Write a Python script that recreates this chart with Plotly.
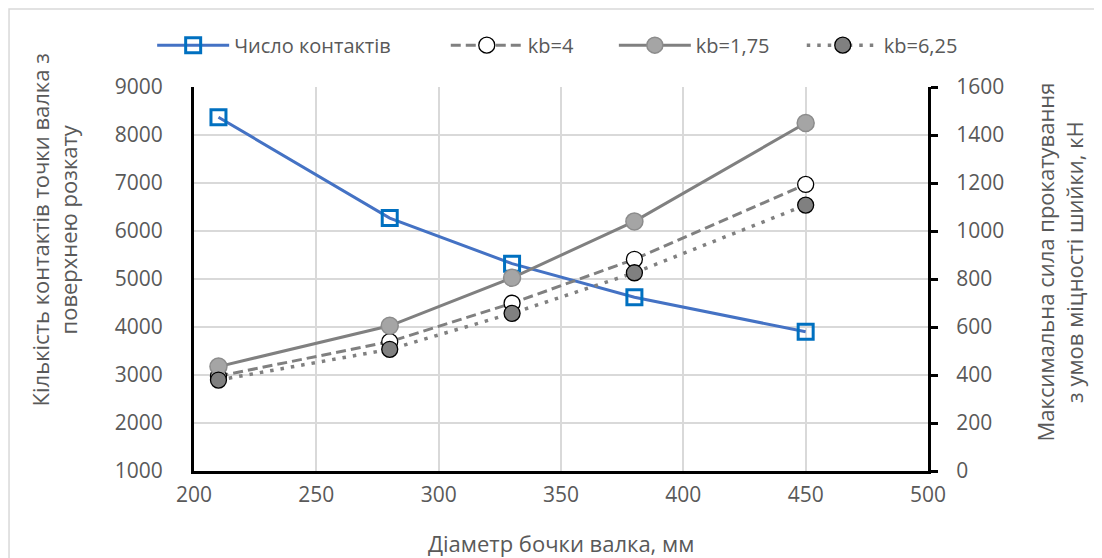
import plotly.graph_objects as go

# ---- data ----
diameter = [210, 280, 330, 380, 450]
contacts = [8370, 6270, 5320, 4620, 3900]
kb_4 = [395, 539, 699, 882, 1194]
kb_1_75 = [435, 605, 805, 1040, 1450]
kb_6_25 = [379, 507, 657, 826, 1108]

names = ["Число контактів", "kb=4", "kb=1,75", "kb=6,25"]
x_title = "Діаметр бочки валка, мм"
y_title = "Кількість контактів точки валка з<br>поверхнею розкату"
y2_title = "Максимальна сила прокатування<br>з умов міцності шийки, кН"

FONT = "Open Sans"
TXT = "#595959"

fig = go.Figure()

fig.add_trace(go.Scatter(
    x=diameter, y=contacts, name=names[0], mode="lines+markers", legend="legend",
    line=dict(color="#4472C4", width=3),
    marker=dict(symbol="square-open", size=15, color="#0070C0", line=dict(width=3, color="#0070C0")),
    yaxis="y"))

fig.add_trace(go.Scatter(
    x=diameter, y=kb_4, name=names[1], mode="lines+markers", legend="legend2",
    line=dict(color="#808080", width=3, dash="10px,5px"),
    marker=dict(symbol="circle", size=16, color="white", line=dict(width=1.3, color="black")),
    yaxis="y2"))

fig.add_trace(go.Scatter(
    x=diameter, y=kb_1_75, name=names[2], mode="lines+markers", legend="legend3",
    line=dict(color="#808080", width=3),
    marker=dict(symbol="circle", size=17, color="#A5A5A5", line=dict(width=1.5, color="#8C8C8C")),
    yaxis="y2"))

fig.add_trace(go.Scatter(
    x=diameter, y=kb_6_25, name=names[3], mode="lines+markers", legend="legend4",
    line=dict(color="#808080", width=3.5, dash="3.5px,7px"),
    marker=dict(symbol="circle", size=16, color="#808080", line=dict(width=1.3, color="black")),
    yaxis="y2"))


def leg(x):
    return dict(orientation="h", x=x, xanchor="left", y=1.109, yanchor="middle",
                font=dict(family=FONT, size=20, color=TXT), itemwidth=72,
                bgcolor="rgba(0,0,0,0)")


fig.update_layout(
    width=1094, height=550,
    margin=dict(l=186, r=174, t=79, b=87),
    paper_bgcolor="white", plot_bgcolor="white",
    font=dict(family=FONT, size=20, color=TXT),
    showlegend=True,
    legend=leg(-0.057), legend2=leg(0.343), legend3=leg(0.572), legend4=leg(0.828),
    xaxis=dict(range=[200, 500], dtick=50, tick0=200, showgrid=True, gridcolor="#D9D9D9", gridwidth=1.5,
               showline=True, linecolor="black", linewidth=3, zeroline=False,
               ticks="", ticklabelstandoff=3, tickfont=dict(size=21, color=TXT)),
    yaxis=dict(range=[1000, 9000], dtick=1000, tick0=1000, showgrid=True, gridcolor="#D9D9D9", gridwidth=1.5,
               showline=True, linecolor="black", linewidth=3, zeroline=False,
               ticks="", ticklabelstandoff=24, tickfont=dict(size=21, color=TXT)),
    yaxis2=dict(range=[0, 1600], dtick=200, tick0=0, overlaying="y", side="right", showgrid=False,
                showline=True, linecolor="black", linewidth=3, zeroline=False,
                ticks="outside", ticklen=7, tickwidth=2.5, tickcolor="black",
                ticklabelstandoff=14, tickfont=dict(size=21, color=TXT)),
    annotations=[
        dict(text=y_title, xref="paper", yref="paper", x=-0.19, y=0.628, textangle=-90,
             showarrow=False, xanchor="center", yanchor="middle", font=dict(size=22, color=TXT)),
        dict(text=y2_title, xref="paper", yref="paper", x=1.179, y=0.544, textangle=-90,
             showarrow=False, xanchor="center", yanchor="middle", font=dict(size=22, color=TXT)),
        dict(text=x_title, xref="paper", yref="paper", x=0.5, y=-0.187, showarrow=False,
             xanchor="center", yanchor="middle", font=dict(size=22, color=TXT)),
    ],
    shapes=[dict(type="rect", xref="paper", yref="paper", x0=-0.252, x1=1.3, y0=-0.3, y1=1.203,
                 line=dict(color="#D9D9D9", width=1.5), layer="below")],
)

fig.write_html("out.html")
